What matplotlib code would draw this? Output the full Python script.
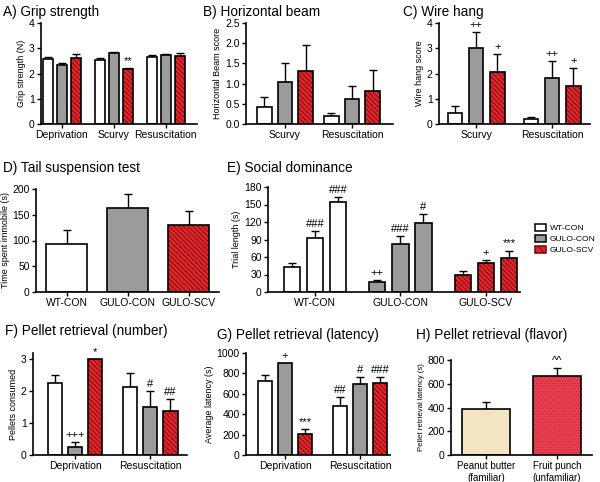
import matplotlib
matplotlib.use('Agg')
import matplotlib.pyplot as plt
import numpy as np
from matplotlib.patches import Patch

plt.rcParams['font.family'] = ['Liberation Sans', 'DejaVu Sans']
plt.rcParams['hatch.linewidth'] = 0.6

# --- Data ---
# A) Grip strength
grip_groups = ['Deprivation', 'Scurvy', 'Resuscitation']
grip_wt = [2.58, 2.53, 2.65]
grip_wt_err = [0.08, 0.10, 0.08]
grip_gulo = [2.33, 2.82, 2.72]
grip_gulo_err = [0.08, 0.04, 0.05]
grip_scv = [2.62, 2.17, 2.70]
grip_scv_err = [0.15, 0.05, 0.10]
grip_scv_marks = ['', '**', '']

# B) Horizontal beam
beam_groups = ['Scurvy', 'Resuscitation']
beam_wt = [0.42, 0.20]
beam_wt_err = [0.26, 0.08]
beam_gulo = [1.03, 0.63]
beam_gulo_err = [0.47, 0.30]
beam_scv = [1.32, 0.82]
beam_scv_err = [0.63, 0.51]

# C) Wire hang
wire_groups = ['Scurvy', 'Resuscitation']
wire_wt = [0.42, 0.20]
wire_wt_err = [0.28, 0.08]
wire_gulo = [3.00, 1.82]
wire_gulo_err = [0.65, 0.68]
wire_scv = [2.05, 1.50]
wire_scv_err = [0.73, 0.72]
wire_gulo_marks = ['++', '++']
wire_scv_marks = ['+', '+']

# D) Tail suspension
tail_groups = ['WT-CON', 'GULO-CON', 'GULO-SCV']
tail_vals = [93, 164, 130]
tail_err = [28, 26, 28]

# E) Social dominance
social_groups = ['WT-CON', 'GULO-CON', 'GULO-SCV']
social_wt = [43, 92, 155]
social_wt_err = [7, 13, 8]
social_wt_marks = ['', '###', '###']
social_gulo = [18, 82, 118]
social_gulo_err = [2, 14, 15]
social_gulo_marks = ['++', '###', '#']
social_scv = [30, 49, 58]
social_scv_err = [6, 6, 13]
social_scv_marks = ['', '+', '***']

# F) Pellet retrieval (number)
pellet_groups = ['Deprivation', 'Resuscitation']
pellet_wt = [2.25, 2.12]
pellet_wt_err = [0.25, 0.45]
pellet_gulo = [0.25, 1.50]
pellet_gulo_err = [0.17, 0.50]
pellet_gulo_marks = ['+++', '#']
pellet_scv = [3.00, 1.38]
pellet_scv_err = [0.0, 0.37]
pellet_scv_marks = ['*', '##']

# G) Pellet retrieval (latency)
lat_groups = ['Deprivation', 'Resuscitation']
lat_wt = [725, 478]
lat_wt_err = [60, 87]
lat_wt_marks = ['', '##']
lat_gulo = [900, 695]
lat_gulo_err = [0, 70]
lat_gulo_marks = ['+', '#']
lat_scv = [210, 710]
lat_scv_err = [45, 55]
lat_scv_marks = ['***', '###']

# H) Pellet retrieval (flavor)
flavor_labels = ['Peanut butter\n(familiar)', 'Fruit punch\n(unfamiliar)']
flavor_vals = [385, 665]
flavor_err = [65, 65]
flavor_marks = ['', '^^']

# --- Styles ---
WHITE = 'white'
GRAY = '#9b9b9b'
RED = '#e2252c'
HATCH_COL = '#6e0a0a'
HATCH = '\\' * 7
MARK_FS = 8

W, H = 600, 482
fig = plt.figure(figsize=(W / 100, H / 100), dpi=100)


def axes_px(x1, y1, x2, y2):
    return fig.add_axes([x1 / W, 1 - y2 / H, (x2 - x1) / W, (y2 - y1) / H])


def style_axes(ax):
    for s in ['top', 'right']:
        ax.spines[s].set_visible(False)
    for s in ['left', 'bottom']:
        ax.spines[s].set_linewidth(1.2)
    ax.tick_params(axis='both', direction='out', length=3, width=1, labelsize=7.5, pad=1.5)


def draw_bar(ax, x, val, err, width, color, hatch=None, hcol=None, mark=''):
    if hatch:
        ax.bar(x, val, width, color=color, edgecolor=hcol, hatch=hatch, linewidth=0, zorder=2)
        ax.bar(x, val, width, color='none', edgecolor='black', linewidth=1.2, zorder=3)
    else:
        ax.bar(x, val, width, color=color, edgecolor='black', linewidth=1.2, zorder=2)
    if err > 0:
        ax.errorbar(x, val, yerr=[[0], [err]], fmt='none', ecolor='black',
                    elinewidth=1, capsize=3, capthick=1, zorder=1)
    if mark:
        ax.annotate(mark, (x, val + err), xytext=(0, 1.5), textcoords='offset points',
                    ha='center', va='bottom', fontsize=MARK_FS)


def grouped(ax, groups, series, offset, width, xlim, ylim, yticks, ylabel, yfmt=None):
    centers = np.arange(len(groups))
    styles = [(WHITE, None), (GRAY, None), (RED, HATCH)]
    for k, (vals, errs, marks) in enumerate(series):
        color, hatch = styles[k]
        for i in range(len(groups)):
            draw_bar(ax, centers[i] + (k - 1) * offset, vals[i], errs[i], width,
                     color, hatch, HATCH_COL, marks[i] if marks else '')
    ax.set_xticks(centers)
    ax.set_xticklabels(groups)
    ax.set_xlim(*xlim)
    ax.set_ylim(*ylim)
    ax.set_yticks(yticks)
    if yfmt:
        ax.set_yticklabels([yfmt.format(t) for t in yticks])
    ax.set_ylabel(ylabel, fontsize=6.5, labelpad=2)
    style_axes(ax)


# A
ax = axes_px(41, 23, 197, 124)
grouped(ax, grip_groups,
        [(grip_wt, grip_wt_err, None), (grip_gulo, grip_gulo_err, None),
         (grip_scv, grip_scv_err, grip_scv_marks)],
        0.27, 0.19, (-0.4, 2.6), (0, 4), [0, 1, 2, 3, 4], 'Grip strength (N)')

# B
ax = axes_px(246, 23, 393, 124)
grouped(ax, beam_groups,
        [(beam_wt, beam_wt_err, None), (beam_gulo, beam_gulo_err, None),
         (beam_scv, beam_scv_err, None)],
        0.31, 0.22, (-0.58, 1.61), (0, 2.5), [0, 0.5, 1.0, 1.5, 2.0, 2.5],
        'Horizontal Beam score', '{:.1f}')

# C
ax = axes_px(439, 23, 590, 124)
grouped(ax, wire_groups,
        [(wire_wt, wire_wt_err, None), (wire_gulo, wire_gulo_err, wire_gulo_marks),
         (wire_scv, wire_scv_err, wire_scv_marks)],
        0.28, 0.19, (-0.49, 1.5), (0, 4), [0, 1, 2, 3, 4], 'Wire hang score')

# D
ax = axes_px(36, 189, 219, 292)
styles = [(WHITE, None), (GRAY, None), (RED, HATCH)]
for i in range(3):
    draw_bar(ax, i, tail_vals[i], tail_err[i], 0.67, styles[i][0], styles[i][1], HATCH_COL)
ax.set_xticks(range(3))
ax.set_xticklabels(tail_groups)
ax.set_xlim(-0.5, 2.5)
ax.set_ylim(0, 200)
ax.set_yticks([0, 50, 100, 150, 200])
ax.set_ylabel('Time spent immobile (s)', fontsize=6.5, labelpad=2)
style_axes(ax)

# E
ax = axes_px(268, 187, 520, 292)
centers = np.arange(3)
soc = [(social_wt, social_wt_err, social_wt_marks),
       (social_gulo, social_gulo_err, social_gulo_marks),
       (social_scv, social_scv_err, social_scv_marks)]
for g in range(3):
    vals, errs, marks = soc[g]
    color, hatch = styles[g]
    for k in range(3):
        draw_bar(ax, centers[g] + (k - 1) * 0.27, vals[k], errs[k], 0.19,
                 color, hatch, HATCH_COL, marks[k])
ax.set_xticks(centers)
ax.set_xticklabels(social_groups)
ax.set_xlim(-0.55, 2.4)
ax.set_ylim(0, 180)
ax.set_yticks(range(0, 181, 30))
ax.set_ylabel('Trial length (s)', fontsize=6.5, labelpad=2)
style_axes(ax)

# legend
handles = [Patch(facecolor=WHITE, edgecolor='black', linewidth=1.1, label='WT-CON'),
           Patch(facecolor=GRAY, edgecolor='black', linewidth=1.1, label='GULO-CON'),
           Patch(facecolor=RED, edgecolor=HATCH_COL, hatch='\\' * 4, linewidth=1.1, label='GULO-SCV')]
fig.legend(handles=handles, loc='center left', bbox_to_anchor=(531 / W, 1 - 239 / H),
           frameon=False, fontsize=6.1, handlelength=1.3, handleheight=0.9,
           handletextpad=0.4, labelspacing=0.3, borderpad=0)

# F
ax = axes_px(33, 353, 187, 455)
grouped(ax, pellet_groups,
        [(pellet_wt, pellet_wt_err, None), (pellet_gulo, pellet_gulo_err, pellet_gulo_marks),
         (pellet_scv, pellet_scv_err, pellet_scv_marks)],
        0.27, 0.19, (-0.56, 1.49), (0, 3.2), [0, 1, 2, 3], 'Pellets consumed')

# G
ax = axes_px(246, 353, 390, 455)
grouped(ax, lat_groups,
        [(lat_wt, lat_wt_err, lat_wt_marks), (lat_gulo, lat_gulo_err, lat_gulo_marks),
         (lat_scv, lat_scv_err, lat_scv_marks)],
        0.27, 0.19, (-0.52, 1.4), (0, 1000), [0, 200, 400, 600, 800, 1000], 'Average latency (s)')

# H
ax = axes_px(451, 360, 592, 455)
draw_bar(ax, 0, flavor_vals[0], flavor_err[0], 0.68, '#f3e4c2', mark=flavor_marks[0])
draw_bar(ax, 1, flavor_vals[1], flavor_err[1], 0.68, '#ea3f50', '......', '#c8283a', mark=flavor_marks[1])
ax.set_xticks([0, 1])
ax.set_xticklabels(flavor_labels)
ax.set_xlim(-0.49, 1.49)
ax.set_ylim(0, 800)
ax.set_yticks([0, 200, 400, 600, 800])
ax.set_ylabel('Pellet retrieval latency (s)', fontsize=5.6, labelpad=2)
style_axes(ax)
ax.tick_params(axis='x', labelsize=7)

# Panel titles
titles = [('A) Grip strength', 3, 12), ('B) Horizontal beam', 203, 12), ('C) Wire hang', 403, 12),
          ('D) Tail suspension test', 3, 168), ('E) Social dominance', 227, 168),
          ('F) Pellet retrieval (number)', 5, 331), ('G) Pellet retrieval (latency)', 217, 335),
          ('H) Pellet retrieval (flavor)', 416, 335)]
for txt, x, y in titles:
    fig.text(x / W, 1 - y / H, txt, fontsize=9.8, ha='left', va='center')

fig.savefig('out.png', dpi=100)
